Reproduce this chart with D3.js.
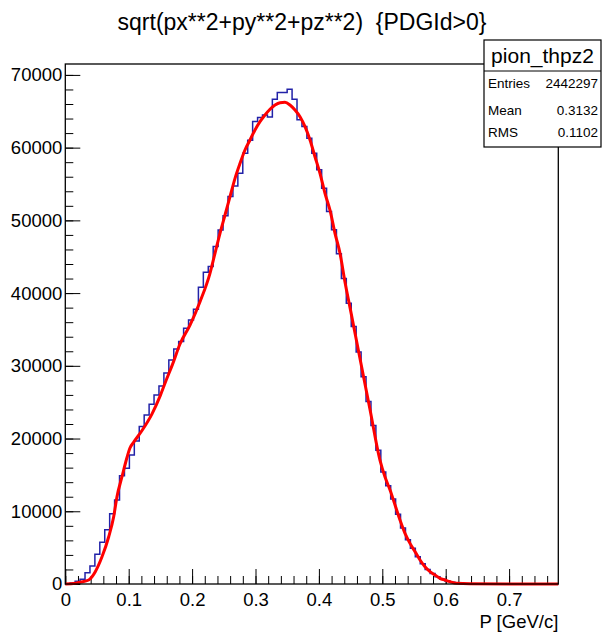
<!DOCTYPE html>
<html>
<head>
<meta charset="utf-8">
<script src="https://cdn.jsdelivr.net/npm/d3@7"></script>
<style>
	body { margin: 0; background: #fff; }
	svg text { font-family: "Liberation Sans", Arial, Helvetica, sans-serif; fill: #000; }
</style>
</head>
<body>
<div id="chart"></div>
<script>
/*
	ROOT-style histogram of pion momentum with a fit curve, drawn with d3.
*/

// histogram: 100 bins between xLow and xHigh
var xLow = 0, xHigh = 0.7776;
var binCounts = [
	50, 150, 380, 650, 1550, 2480, 4080, 5740, 7470, 9670,
	11550, 14900, 15900, 17750, 19670, 21640, 23250, 24700, 26000, 27240,
	29000, 30800, 32300, 33330, 35170, 36300, 37780, 40810, 42870, 43650,
	46400, 48690, 50620, 53270, 54740, 56490, 59240, 61000, 63590, 64140,
	64500, 64200, 66670, 67580, 67580, 68040, 66670, 63830, 62900, 61300,
	59240, 56950, 54430, 51210, 48700, 45400, 42000, 38600, 35400, 31900,
	28500, 25100, 21800, 18400, 15400, 13500, 11700, 9600, 7700, 6100,
	4900, 3750, 2800, 2000, 1450, 1000, 650, 420, 230, 110,
	60, 40, 25, 15, 10, 6, 4, 3, 2, 2,
	1, 1, 1, 0, 0, 0, 0, 0, 0, 0
];

// fit curve
var fitX = [0, 0.0158, 0.0232, 0.0369, 0.0421, 0.0473, 0.0579, 0.0685, 0.0763, 0.0815,
	0.0894, 0.0973, 0.1020, 0.1079, 0.1210, 0.1368, 0.1498, 0.1577, 0.1691, 0.1809, 0.1967,
	0.2125, 0.2282, 0.2361, 0.2440, 0.2519, 0.2598, 0.2677, 0.2756, 0.2834, 0.2913,
	0.2992, 0.3071, 0.3150, 0.3229, 0.3308, 0.3387, 0.3465, 0.3544, 0.3623, 0.3702,
	0.3781, 0.3860, 0.3938, 0.4017, 0.4096, 0.4175, 0.4254, 0.4333, 0.4412, 0.4491,
	0.4648, 0.4806, 0.4964, 0.5043, 0.5122, 0.5201, 0.5279, 0.5358, 0.5437, 0.5516,
	0.5595, 0.5673, 0.5752, 0.5831, 0.5910, 0.5989, 0.6068, 0.6173, 0.6380, 0.7000, 0.7776];
var fitY = [0, 100, 250, 550, 1000, 1700, 3750, 6500, 9250, 12000,
	14750, 17400, 18700, 19500, 21100, 23400, 25900, 27700, 30200, 33000, 35610,
	38820, 42720, 45470, 48220, 50740, 53260, 55780, 57840, 59680, 61050,
	62430, 63570, 64490, 65270, 65860, 66180, 66230, 65860, 65170, 64250,
	62880, 61050, 58750, 56470, 53720, 51400, 48220, 45470, 41500, 38000,
	31000, 24000, 17000, 14700, 12925, 10860, 8800, 6970, 5590, 4450,
	3300, 2380, 1700, 1240, 780, 550, 320, 90, 20, 0, 0];

var yMax = 71500;
var xTickValues = [0, 0.1, 0.2, 0.3, 0.4, 0.5, 0.6, 0.7];
var xTickLabels = ['0', '0.1', '0.2', '0.3', '0.4', '0.5', '0.6', '0.7'];
var yTickValues = [0, 10000, 20000, 30000, 40000, 50000, 60000, 70000];
var yTickLabels = ['0', '10000', '20000', '30000', '40000', '50000', '60000', '70000'];

var title = 'sqrt(px**2+py**2+pz**2)  {PDGId>0}';
var xTitle = 'P [GeV/c]';
var statsName = 'pion_thpz2';
var statsKeys = ['Entries', 'Mean', 'RMS'];
var statsVals = ['2442297', '0.3132', '0.1102'];

var width = 603, height = 632;
var frame = { left: 65.3, right: 558.3, top: 64, bottom: 584 };

var svg = d3.select('#chart').append('svg')
	.attr('width', width)
	.attr('height', height);

var x = d3.scaleLinear().domain([xLow, xHigh]).range([frame.left, frame.right]);
var y = d3.scaleLinear().domain([0, yMax]).range([frame.bottom, frame.top]);

// minor ticks first, then major ticks on top
var xMinor = d3.axisBottom(x)
	.tickValues(d3.range(0, 0.77, 0.02))
	.tickSize(-8).tickSizeOuter(0).tickFormat('');
var xMajor = d3.axisBottom(x)
	.tickValues(xTickValues)
	.tickSize(-15).tickSizeOuter(0).tickPadding(9)
	.tickFormat(function(d, i){ return xTickLabels[i]; });

var yMinor = d3.axisLeft(y)
	.tickValues(d3.range(0, 71000, 2000))
	.tickSize(-8).tickSizeOuter(0).tickFormat('');
var yMajor = d3.axisLeft(y)
	.tickValues(yTickValues)
	.tickSize(-15).tickSizeOuter(0).tickPadding(3)
	.tickFormat(function(d, i){ return yTickLabels[i]; });

function drawAxis(axis, tx, ty){
	var g = svg.append('g')
		.attr('transform', 'translate(' + tx + ',' + ty + ')')
		.call(axis);
	g.select('.domain').remove();
	g.selectAll('.tick line').attr('stroke', '#000').attr('stroke-width', 1);
	g.selectAll('.tick text')
		.style('font-family', '"Liberation Sans", Arial, sans-serif')
		.style('font-size', '18.5px')
		.attr('fill', '#000');
	return g;
}

drawAxis(xMinor, 0, frame.bottom);
drawAxis(xMajor, 0, frame.bottom);
drawAxis(yMinor, frame.left, 0);
drawAxis(yMajor, frame.left, 0);

// histogram as a step line
var binW = (xHigh - xLow) / binCounts.length;
var stepPts = binCounts.map(function(v, i){ return [xLow + i * binW, v]; });
stepPts.push([xHigh, binCounts[binCounts.length - 1]]);

var line = d3.line()
	.x(function(d){ return x(d[0]); })
	.y(function(d){ return y(d[1]); });

svg.append('path')
	.attr('d', line.curve(d3.curveStepAfter)(stepPts))
	.attr('fill', 'none')
	.attr('stroke', '#2222a8')
	.attr('stroke-width', 1.5);

// fit curve
var fitPts = fitX.map(function(v, i){ return [v, fitY[i]]; });
svg.append('path')
	.attr('d', line.curve(d3.curveMonotoneX)(fitPts))
	.attr('fill', 'none')
	.attr('stroke', '#ff0000')
	.attr('stroke-width', 3)
	.attr('stroke-linejoin', 'round');

// frame
svg.append('rect')
	.attr('x', frame.left).attr('y', frame.top)
	.attr('width', frame.right - frame.left)
	.attr('height', frame.bottom - frame.top)
	.attr('fill', 'none')
	.attr('stroke', '#000')
	.attr('stroke-width', 1.3);

// title (keep the double space)
svg.append('text')
	.attr('x', 302).attr('y', 30)
	.attr('text-anchor', 'middle')
	.style('font-size', '23px')
	.style('white-space', 'pre')
	.text(title);

// axis title
svg.append('text')
	.attr('x', frame.right).attr('y', 628)
	.attr('text-anchor', 'end')
	.style('font-size', '18.5px')
	.text(xTitle);

// stats box
var box = { x: 484, y: 40, w: 117, h: 107, head: 31 };
var stats = svg.append('g');
stats.append('rect')
	.attr('x', box.x).attr('y', box.y)
	.attr('width', box.w).attr('height', box.h)
	.attr('fill', '#fff')
	.attr('stroke', '#000')
	.attr('stroke-width', 1.2);
stats.append('line')
	.attr('x1', box.x).attr('x2', box.x + box.w)
	.attr('y1', box.y + box.head).attr('y2', box.y + box.head)
	.attr('stroke', '#000');
stats.append('text')
	.attr('x', box.x + box.w / 2).attr('y', box.y + 23)
	.attr('text-anchor', 'middle')
	.style('font-size', '21px')
	.text(statsName);

var rowY = [88, 115, 137];
statsKeys.forEach(function(k, i){
	stats.append('text')
		.attr('x', box.x + 4).attr('y', rowY[i])
		.style('font-size', '13.5px')
		.text(k);
	stats.append('text')
		.attr('x', box.x + box.w - 3).attr('y', rowY[i])
		.attr('text-anchor', 'end')
		.style('font-size', '13.5px')
		.text(statsVals[i]);
});
</script>
</body>
</html>
